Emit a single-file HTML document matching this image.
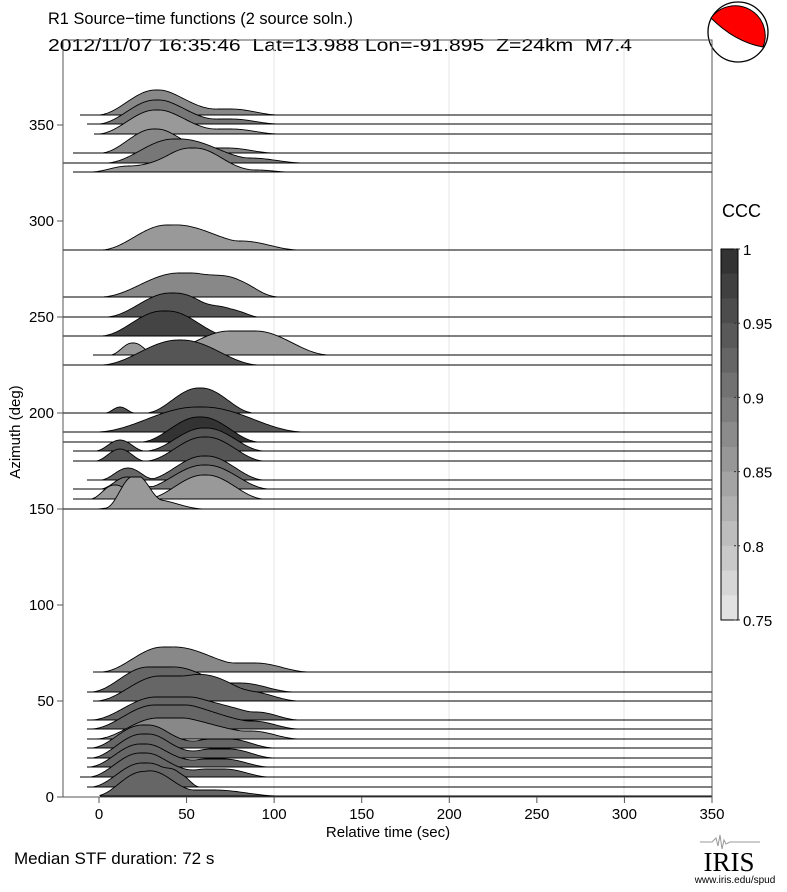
<!DOCTYPE html>
<html><head><meta charset="utf-8"><style>
html,body{margin:0;padding:0;background:#fff;}
svg text{font-family:"Liberation Sans",sans-serif;fill:#000;white-space:pre;}
</style></head><body>
<svg id="s" width="787" height="887" viewBox="0 0 787 887" xmlns="http://www.w3.org/2000/svg">
<rect width="787" height="887" fill="#fff"/>
<text x="48" y="24" font-size="17" textLength="305" lengthAdjust="spacingAndGlyphs">R1 Source−time functions (2 source soln.)</text>
<text x="48" y="51" font-size="17.5" textLength="584" lengthAdjust="spacingAndGlyphs">2012/11/07 16:35:46  Lat=13.988 Lon=-91.895  Z=24km  M7.4</text>
<circle cx="738" cy="32" r="30" fill="#fff" stroke="#000" stroke-width="1.3"/>
<path d="M711,18 A30,30 0 0 1 763,47 Q735,42 711,18 Z" fill="#f00" stroke="#000" stroke-width="1"/>
<g stroke="#e6e6e6" stroke-width="1">
<line x1="274" y1="40" x2="274" y2="797"/><line x1="449" y1="40" x2="449" y2="797"/><line x1="624" y1="40" x2="624" y2="797"/>
</g>
<g id="traces"></g>
<rect x="63" y="40" width="649" height="757" fill="none" stroke="#555" stroke-width="1"/>
<g id="ax" stroke="#555" stroke-width="1"></g>
<g id="lab" font-size="15"></g>
<text x="388" y="837" font-size="15" text-anchor="middle">Relative time (sec)</text>
<text transform="translate(20,432) rotate(-90)" font-size="15" text-anchor="middle">Azimuth (deg)</text>
<text x="14" y="864" font-size="17">Median STF duration: 72 s</text>
<text x="722" y="217" font-size="18">CCC</text>
<g id="cb"></g>
<polyline points="700,842 712,842 716,838 718,846 720,835 722,849 724,840 726,844 730,842 760,842" fill="none" stroke="#999" stroke-width="1"/>
<text x="729" y="871" font-size="27" text-anchor="middle" style="font-family:'Liberation Serif',serif">IRIS</text>
<text x="735" y="883" font-size="10" text-anchor="middle">www.iris.edu/spud</text>
</svg>
<script>
var NS="http://www.w3.org/2000/svg";
function el(n,a,p,t){var e=document.createElementNS(NS,n);for(var k in a)e.setAttribute(k,a[k]);if(t)e.textContent=t;p.appendChild(e);return e;}
var T=[
[115,80,"#888",[[152,162,25,55],[205,245,6,35]]],
[124,87,"#777",[[152,162,24,55],[205,245,5,35]]],
[134,94,"#999",[[152,162,24,55],[205,245,5,35]]],
[153,73,"#888",[[150,160,24,50],[205,240,5,35]]],
[163,63,"#777",[[165,190,24,60],[230,260,5,45]]],
[172,73,"#999",[[125,135,6,35],[185,200,24,55],[250,260,2,30]]],
[250,63,"#999",[[160,180,25,60],[215,255,9,45]]],
[297,63,"#888",[[165,205,24,65],[235,245,9,35]]],
[317,63,"#555",[[165,180,24,60],[225,235,7,25]]],
[336,63,"#444",[[155,175,25,55]]],
[355,93,"#999",[[130,136,12,20],[200,285,24,45]]],
[365,63,"#555",[[175,185,25,75]]],
[413,63,"#555",[[120,120,6,15],[195,205,25,50]]],
[432,63,"#555",[[190,210,25,95]]],
[442,63,"#333",[[195,205,25,55]]],
[451,73,"#555",[[120,120,11,25],[200,210,23,55]]],
[461,73,"#555",[[120,120,12,25],[200,210,24,55]]],
[480,87,"#666",[[128,128,12,28],[200,210,24,55]]],
[489,73,"#777",[[125,130,12,25],[200,210,24,60]]],
[499,73,"#999",[[112,118,14,22],[200,210,24,55]]],
[509,63,"#999",[[128,140,25,22],[150,150,10,55]]],
[672,93,"#888",[[160,175,25,60],[215,265,9,45]]],
[692,87,"#666",[[140,180,25,50],[220,245,9,50]]],
[701,93,"#666",[[150,200,25,55],[230,250,10,50]]],
[720,87,"#666",[[145,200,23,55],[240,260,8,40]]],
[729,87,"#666",[[145,195,24,55],[240,255,8,45]]],
[739,87,"#888",[[150,190,21,55],[235,255,8,45]]],
[748,87,"#666",[[140,150,23,50],[205,235,9,40]]],
[758,87,"#666",[[140,150,24,50],[205,235,9,40]]],
[767,87,"#666",[[138,148,23,50],[200,230,8,40]]],
[777,80,"#666",[[138,148,24,50],[200,230,8,40]]],
[787,87,"#666",[[140,150,24,50],[175,185,6,15]]],
[796,100,"#666",[[140,150,24,45],[190,220,6,60]]]
];
T.forEach(function(t){var k=t[0]>600?0.6:0.3;t[3]=t[3].map(function(p){var c=(p[0]+p[1])/2,h=(p[1]-p[0])/2;return [c-h*k,c+h*k,p[2],p[3]+h*(1-k)];});});
function f(x,b){var s=0;for(var i=0;i<b.length;i++){var p=b[i],d=0;if(x<p[0])d=p[0]-x;else if(x>p[1])d=x-p[1];if(d<p[3])s+=p[2]*0.5*(1+Math.cos(Math.PI*d/p[3]));}return s;}
var g=document.getElementById("traces");
T.forEach(function(t){var y=t[0],x0=t[1],b=t[3];var d="M"+x0+","+y;for(var x=x0;x<=712;x+=1){var h=Math.min(f(x,b),32);d+=" L"+x+","+(y-h).toFixed(2);}
el("path",{d:d+" L712,"+y+" Z",fill:t[2],stroke:"none"},g);
el("path",{d:d,fill:"none",stroke:"#000","stroke-width":"0.9"},g);
el("line",{x1:x0,y1:y,x2:712,y2:y,stroke:"#000","stroke-width":"1"},g);});
var ax=document.getElementById("ax"),lab=document.getElementById("lab");
for(var a=0;a<=350;a+=50){var yy=797-a*1.92;el("line",{x1:57,y1:yy,x2:63,y2:yy},ax);el("text",{x:54,y:yy+5,"text-anchor":"end"},lab,""+a);}
for(var tt=0;tt<=350;tt+=50){var xx=99+tt*1.7514;el("line",{x1:xx,y1:797,x2:xx,y2:803},ax);el("text",{x:xx,y:819,"text-anchor":"middle"},lab,""+tt);}
var cb=document.getElementById("cb");var n=15,cbTop=249,cbBot=620,hh=(cbBot-cbTop)/n;
for(var i=0;i<n;i++){var v=Math.round(0x33+(0xe2-0x33)*i/(n-1));var c="rgb("+v+","+v+","+v+")";el("rect",{x:721,y:cbTop+i*hh,width:17,height:hh+0.5,fill:c},cb);}
el("rect",{x:721,y:cbTop,width:17,height:cbBot-cbTop,fill:"none",stroke:"#000","stroke-width":"1"},cb);
["1","0.95","0.9","0.85","0.8","0.75"].forEach(function(s,i){var yy=cbTop+i*(cbBot-cbTop)/5;el("line",{x1:734,y1:yy,x2:741,y2:yy,stroke:"#333","stroke-dasharray":"2,2"},cb);el("text",{x:743,y:yy+6,"font-size":"15"},cb,s);});
</script>
</body></html>
